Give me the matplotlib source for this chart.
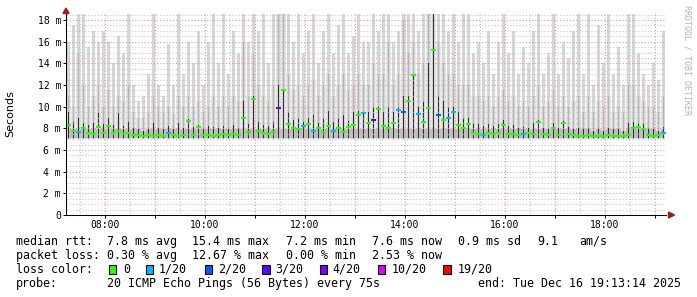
import matplotlib
matplotlib.use("Agg")
import matplotlib.pyplot as plt
import matplotlib.dates as mdates
import matplotlib.patches as mpatches
import matplotlib.ticker as mticker
from bisect import bisect_right
import numpy as np
import pandas as pd

W, H = 697, 297

# smokeping samples, one every 6 min (ms)
times = pd.date_range("2025-12-16 07:16:14", periods=120, freq="6min")
t_start = pd.Timestamp("2025-12-16 07:13:14")
t_end = pd.Timestamp("2025-12-16 19:13:14")

# outer smoke (slowest ping of the 20)
max_ms = [16, 17.5, 18.6, 18.6, 15.5, 17, 16, 17, 16, 14, 16.5, 15, 18.6, 12, 10.5,
          11, 13, 18.6, 12, 11, 15.8, 12, 18.6, 13, 16, 14, 17, 12, 16, 18.6,
          14, 18.6, 13, 17, 15, 18.6, 16, 18.6, 17, 18.6, 14, 18.6, 18.6, 18.6, 18.6,
          16, 18.6, 15, 17, 18.6, 14, 17, 18.6, 15, 17.5, 18.6, 15, 16.5, 18.6, 16,
          16, 18.6, 17, 18.6, 18.6, 16, 17, 18.6, 18.6, 18.6, 17, 18.6, 18.6, 18.6, 18.6,
          18.6, 17, 18.6, 16, 18.6, 18.6, 15, 16, 14, 17, 13, 16, 18.6, 15, 17,
          13, 15.5, 14, 17, 18.6, 13, 15, 18.6, 13, 16, 14.5, 17, 18.6, 13, 18.6,
          12, 17.5, 14, 18.6, 13, 15.5, 12, 18.6, 18.6, 15, 13, 12, 14, 12.5, 17]
# middle smoke band
upper_ms = [11, 10, 15, 12, 10, 11, 12, 10, 11.5, 10, 11, 10.5, 12, 9.5, 9,
            9, 9.5, 11, 10, 9.5, 10, 9.3, 11, 10, 11, 10, 10.5, 9.5, 10, 11,
            10, 11, 10, 11, 10.5, 16, 11, 15, 12, 11, 10.5, 12, 18.6, 18.6, 13,
            11.5, 12, 11, 12, 12.5, 11, 12, 13, 11, 12, 13, 11.5, 12, 13, 12,
            12, 14, 13, 13, 16, 12, 13, 18, 15, 16, 13, 14, 18.6, 18.6, 16,
            14, 13, 13, 12, 12, 12, 11, 11, 10.5, 11, 10, 11, 11.5, 10.5, 11,
            10, 10.5, 10, 11, 12, 10, 10.5, 11.5, 10, 11, 10, 10.5, 11, 9.5, 11,
            9.5, 10.5, 10, 11, 9.5, 10, 9.5, 12, 12, 11, 10.5, 10, 10, 9.5, 11]
# dark core around the median
inner_ms = [9.5, 8.6, 9, 8.5, 8.3, 8.5, 9.5, 8.4, 9, 8.3, 9.4, 8.2, 8.6, 8.0, 7.9,
            7.8, 8.0, 8.5, 8.0, 7.9, 8.2, 7.9, 8.5, 8.0, 8.9, 8.1, 8.3, 7.9, 8.2, 8.1,
            8.0, 8.2, 7.9, 8.3, 8.0, 10.5, 8.5, 11, 8.6, 8.3, 8.2, 8.6, 12, 11.5, 9.5,
            8.8, 9, 8.6, 9, 9.2, 8.5, 9.0, 9.6, 8.6, 9, 9.2, 8.7, 9.5, 9.6, 9.4,
            9.5, 10, 10, 9.5, 10, 9.5, 10, 11, 11, 13, 10, 10.5, 14, 18.6, 11,
            10.5, 10, 10, 9.5, 9, 9, 8.5, 8.4, 8.2, 8.4, 8.2, 8.4, 8.8, 8.2, 8.3,
            8.0, 8.1, 8.0, 8.5, 8.8, 8.0, 8.0, 8.5, 8.0, 8.7, 8.1, 8.0, 8.0, 7.9, 8.0,
            7.8, 8.0, 7.8, 8.0, 7.9, 7.9, 7.8, 8.5, 8.6, 8.5, 8.4, 8.0, 7.9, 7.8, 8.1]
median_ms = [8.3, 7.8, 7.7, 8.0, 7.6, 7.5, 8.1, 7.6, 8.2, 7.6, 7.8, 7.5, 7.6, 7.4, 7.4,
             7.3, 7.4, 7.3, 7.4, 7.3, 7.6, 7.4, 7.3, 7.4, 8.7, 7.4, 8.1, 7.4, 7.4, 7.3,
             7.4, 7.5, 7.4, 7.5, 7.4, 9.0, 7.7, 10.7, 7.8, 7.6, 7.5, 7.7, 9.9, 11.5, 8.4,
             8.0, 7.9, 8.2, 8.4, 7.8, 8.0, 7.7, 8.2, 7.8, 8.0, 7.7, 8.1, 8.3, 9.2, 9.4,
             8.5, 8.8, 9.8, 8.2, 8.0, 8.5, 9.7, 9.5, 10.5, 12.9, 9.3, 8.6, 9.9, 15.2, 9.2,
             8.8, 9.0, 9.5, 8.3, 8.0, 8.4, 7.6, 7.5, 7.4, 7.6, 7.5, 7.6, 8.3, 7.5, 7.5,
             7.4, 7.5, 7.6, 7.5, 8.6, 7.5, 7.4, 8.0, 7.4, 8.5, 7.5, 7.4, 7.3, 7.3, 7.4,
             7.3, 7.3, 7.3, 7.4, 7.3, 7.3, 7.3, 7.4, 8.0, 8.1, 7.9, 7.4, 7.3, 7.4, 7.6]
# lost pings out of 20
loss = [0, 0, 1, 0, 0, 0, 0, 0, 0, 0, 0, 0, 0, 0, 0, 0, 0, 0, 0, 0, 1, 0, 0, 0, 0, 0, 0, 0, 0, 0,
        0, 0, 0, 0, 0, 0, 0, 0, 0, 0, 0, 0, 3, 0, 0, 0, 0, 1, 0, 1, 0, 0, 0, 1, 0, 0, 0, 0, 0, 1,
        0, 3, 0, 0, 0, 0, 1, 2, 0, 0, 1, 0, 0, 0, 2, 0, 1, 1, 0, 0, 0, 0, 0, 1, 0, 0, 0, 0, 0, 0,
        0, 1, 0, 0, 0, 0, 0, 0, 0, 0, 0, 0, 0, 0, 0, 0, 0, 0, 0, 0, 0, 0, 0, 0, 0, 0, 0, 0, 0, 1]
rtt_floor = 7.0

loss_steps = [0, 1, 2, 3, 4, 10, 19]
loss_labels = ["0", "1/20", "2/20", "3/20", "4/20", "10/20", "19/20"]
loss_colors = ["#26ff00", "#00b8ff", "#0059ff", "#5e00ff", "#7e00ff", "#dd00ff", "#ff0000"]

rtt_line = ["median rtt:", "7.8 ms avg", "15.4 ms max", "7.2 ms min", "7.6 ms now",
            "0.9 ms sd", "9.1", "am/s"]
loss_line = ["packet loss:", "0.30 % avg", "12.67 % max", "0.00 % min", "2.53 % now"]
probe_text = "20 ICMP Echo Pings (56 Bytes) every 75s"
end_text = "end: Tue Dec 16 19:13:14 2025"

MONO = "DejaVu Sans Mono"


def fy(y):
    return 1 - y / H


fig = plt.figure(figsize=(W / 100, H / 100), dpi=100)
ax = fig.add_axes([66 / W, (H - 215) / H, 600 / W, 201.7 / H])

xs = mdates.date2num(times)
step = 6 / 1440.
mx = np.array(max_ms)
up = np.array(upper_ms)
inn = np.array(inner_ms)

# haze of the middle band, then spikes on top
ax.fill_between(xs, rtt_floor, up, step="mid", color="#ebebeb", linewidth=0, zorder=0.9)
ax.bar(xs, mx - rtt_floor, bottom=rtt_floor, width=step * 0.5,
       color="#d6d6d6", linewidth=0, zorder=1)
ax.bar(xs, up - rtt_floor, bottom=rtt_floor, width=step * 0.35,
       color="#b4b4b4", linewidth=0, zorder=1.1)
ax.fill_between(xs, rtt_floor + 0.1, np.minimum(inn, 7.9), step="mid", color="#bdbdbd",
                linewidth=0, zorder=1.15)
ax.bar(xs, inn - rtt_floor - 0.15, bottom=rtt_floor + 0.15, width=step * 0.3,
       color="#2e2e2e", linewidth=0, zorder=1.2)

med_colors = [loss_colors[bisect_right(loss_steps, l) - 1] for l in loss]
ax.hlines(median_ms, xs - step * 0.5, xs + step * 0.5, colors=med_colors,
          linewidth=1.5, zorder=3)

ax.set_xlim(mdates.date2num(t_start), mdates.date2num(t_end))
ax.set_ylim(0, 18.62)

ax.xaxis.set_major_locator(mdates.HourLocator())
ax.xaxis.set_minor_locator(mdates.MinuteLocator(byminute=[30]))


def hour_label(v, pos):
    d = mdates.num2date(v)
    return d.strftime("%H:%M") if d.hour % 2 == 0 else ""


ax.xaxis.set_major_formatter(mticker.FuncFormatter(hour_label))
ax.yaxis.set_major_locator(mticker.MultipleLocator(2))
ax.yaxis.set_minor_locator(mticker.MultipleLocator(0.5))
ax.yaxis.set_major_formatter(mticker.FuncFormatter(
    lambda v, p: "0" if v == 0 else "%d m" % v))

ax.set_axisbelow(False)
ax.grid(which="major", color="#f08c8c", linestyle=(0, (1, 2)), linewidth=0.75)
ax.grid(which="minor", color="#c4c4c4", linestyle=(0, (1, 2)), linewidth=0.75)

ax.tick_params(which="major", direction="out", length=2, width=0.7, pad=1.6,
               labelsize=7, colors="black")
ax.tick_params(which="minor", length=0)
for lab in ax.get_xticklabels() + ax.get_yticklabels():
    lab.set_family(MONO)

for s in ["top", "right"]:
    ax.spines[s].set_visible(False)
for s in ["left", "bottom"]:
    ax.spines[s].set_color("black")
    ax.spines[s].set_linewidth(0.75)
    ax.spines[s].set_zorder(4)

# axis arrows
arrow_c = "#9b1c1c"
fig.patches.append(mpatches.Polygon([(66 / W, fy(8)), (63 / W, fy(13.5)), (69 / W, fy(13.5))],
                                    closed=True, color=arrow_c, transform=fig.transFigure))
fig.patches.append(mpatches.Polygon([(674.5 / W, fy(215)), (668.5 / W, fy(212)), (668.5 / W, fy(218))],
                                    closed=True, color=arrow_c, transform=fig.transFigure))

fig.text(10.5 / W, fy(113.5), "Seconds", rotation=90, ha="center", va="center",
         fontsize=8, family="DejaVu Sans")
fig.text(687 / W, fy(60), "RRDTOOL / TOBI OETIKER", rotation=270, ha="center", va="center",
         fontsize=6, family=MONO, color="#b4b4b4")

# legend block
txt = dict(fontsize=8.4, family=MONO, ha="left", va="center", color="black")
for s, x in zip(rtt_line, [16, 107, 192, 286, 372, 458, 537, 579]):
    fig.text(x / W, fy(241.5), s, **txt)
for s, x in zip(loss_line, [16, 107, 192, 286, 372]):
    fig.text(x / W, fy(255.5), s, **txt)
fig.text(16 / W, fy(269.5), "loss color:", **txt)
for lab, col, xq, xt in zip(loss_labels, loss_colors,
                            [108.5, 145.7, 204.5, 262.2, 319.6, 377.5, 443.0],
                            [123.3, 158.5, 218, 275.5, 332.5, 391.5, 457.5]):
    fig.patches.append(mpatches.Rectangle((xq / W, fy(273.7)), 7.7 / W, 8.4 / H,
                                          facecolor=col, edgecolor="black", linewidth=0.8,
                                          transform=fig.transFigure))
    fig.text(xt / W, fy(269.5), lab, **txt)
fig.text(16 / W, fy(283.5), "probe:", **txt)
fig.text(107 / W, fy(283.5), probe_text, **txt)
fig.text(478.5 / W, fy(283.5), end_text, **txt)

fig.savefig("out.png", dpi=100)
